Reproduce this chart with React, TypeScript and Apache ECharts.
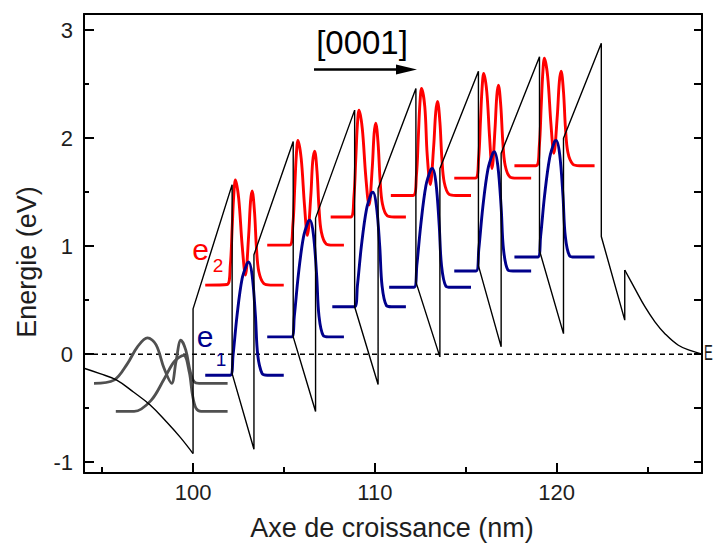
import React, { useEffect, useRef } from "react";
import * as echarts from "echarts";

const X_MIN = 94;
const X_MAX = 128;
const Y_MIN = -1.1;
const Y_MAX = 3.15;

const xMajorTicks = [100, 110, 120];
const xMinorTicks = [95, 105, 115, 125];
const yMajorTicks = [-1, 0, 1, 2, 3];
const yMinorTicks = [-0.5, 0.5, 1.5, 2.5];
const yRightTicks = [-1, -0.5, 0, 0.5, 1, 1.5, 2, 2.5, 3];

// conduction band profile (black)
const bandLeft = [
  [94.0, -0.13], [94.88, -0.18], [95.8, -0.24], [96.72, -0.35], [97.64, -0.47],
  [98.56, -0.63], [99.3, -0.77], [100.0, -0.92],
];
const bandSaw = [
  [100.0, -0.92], [100.0, 0.42], [102.15, 1.57], [102.15, -0.18], [103.35, -0.88],
  [103.35, 0.92], [105.51, 1.97], [105.51, 0.16], [106.74, -0.53], [106.74, 1.26],
  [108.89, 2.26], [108.89, 0.44], [110.18, -0.28], [110.18, 1.535], [112.26, 2.46],
  [112.26, 0.67], [113.58, -0.025], [113.58, 1.72], [115.7, 2.62], [115.7, 0.82],
  [116.95, 0.068], [116.95, 1.86], [119.06, 2.755], [119.06, 0.96], [120.38, 0.19],
  [120.38, 2.0], [122.46, 2.88], [122.46, 1.09], [123.75, 0.315], [123.75, 0.78],
];
const bandRight = [
  [123.75, 0.78], [124.3, 0.61], [124.86, 0.44], [125.41, 0.3], [125.96, 0.19],
  [126.7, 0.083], [127.43, 0.03], [128.0, 0.0],
];
const fermiLevel = [[94, 0], [128, 0]];

// gray states on the left
const grayUpper = [
  [94.55, -0.27], [95.65, -0.24], [96.39, -0.087], [96.94, 0.068], [97.49, 0.151],
  [97.96, 0.089], [98.41, -0.133], [98.82, -0.27], [99.06, -0.07], [99.33, 0.13],
  [99.6, 0.037], [99.85, -0.164], [100.07, -0.257], [100.34, -0.27], [101.9, -0.27],
];
const grayLower = [
  [95.75, -0.53], [96.76, -0.53], [97.68, -0.43], [98.41, -0.23], [98.96, -0.07],
  [99.48, -0.01], [99.79, -0.165], [99.97, -0.38], [100.16, -0.5], [100.44, -0.53],
  [101.9, -0.53],
];

// e1 (blue) wavefunctions
const e1Well1 = [
  [100.67, -0.195], [102.05, -0.195], [102.2, -0.01], [102.42, 0.36], [102.7, 0.7],
  [102.97, 0.84], [103.06, 0.855], [103.25, 0.73], [103.43, 0.36], [103.56, -0.01],
  [103.8, -0.18], [104.08, -0.195], [104.99, -0.195],
];
const e1Well2 = [
  [104.08, 0.16], [105.42, 0.16], [105.57, 0.35], [105.79, 0.73], [106.07, 1.08],
  [106.34, 1.23], [106.43, 1.24], [106.62, 1.11], [106.8, 0.73], [106.93, 0.35],
  [107.17, 0.17], [107.45, 0.16], [108.3, 0.16],
];
const e1Well3 = [
  [107.66, 0.44], [108.89, 0.44], [109.04, 0.63], [109.26, 1.0], [109.54, 1.34],
  [109.81, 1.49], [109.9, 1.5], [110.09, 1.37], [110.27, 1.0], [110.4, 0.63],
  [110.64, 0.45], [110.92, 0.44], [111.71, 0.44],
];
const e1Well4 = [
  [110.79, 0.62], [112.16, 0.62], [112.31, 0.82], [112.53, 1.2], [112.81, 1.56],
  [113.08, 1.71], [113.17, 1.72], [113.36, 1.59], [113.54, 1.2], [113.67, 0.82],
  [113.91, 0.63], [114.19, 0.62], [115.29, 0.62],
];
const e1Well5 = [
  [114.37, 0.77], [115.57, 0.77], [115.72, 0.97], [115.94, 1.36], [116.22, 1.71],
  [116.49, 1.86], [116.58, 1.875], [116.77, 1.74], [116.95, 1.36], [117.08, 0.97],
  [117.32, 0.78], [117.6, 0.77], [118.6, 0.77],
];
const e1Well6 = [
  [117.68, 0.9], [118.97, 0.9], [119.12, 1.09], [119.34, 1.47], [119.62, 1.82],
  [119.89, 1.97], [119.98, 1.98], [120.17, 1.85], [120.35, 1.47], [120.48, 1.09],
  [120.72, 0.91], [121.0, 0.9], [122.09, 0.9],
];

// e2 (red) wavefunctions
const e2Well1 = [
  [100.67, 0.64], [101.87, 0.645], [102.05, 0.825], [102.15, 1.164], [102.24, 1.474],
  [102.33, 1.613], [102.51, 1.442], [102.7, 1.01], [102.88, 0.732], [103.06, 1.103],
  [103.16, 1.411], [103.25, 1.511], [103.38, 1.319], [103.49, 0.979], [103.62, 0.763],
  [103.89, 0.654], [104.26, 0.64], [104.99, 0.64],
];
const e2Well2 = [
  [104.08, 1.01], [105.31, 1.01], [105.49, 1.195], [105.59, 1.53], [105.68, 1.84],
  [105.77, 1.98], [105.95, 1.81], [106.13, 1.38], [106.29, 1.1], [106.48, 1.47],
  [106.58, 1.78], [106.69, 1.88], [106.82, 1.69], [106.93, 1.35], [107.06, 1.13],
  [107.33, 1.02], [107.7, 1.01], [108.3, 1.01],
];
const e2Well3 = [
  [107.57, 1.27], [108.67, 1.27], [108.85, 1.46], [108.95, 1.8], [109.04, 2.12],
  [109.13, 2.26], [109.31, 2.09], [109.5, 1.65], [109.68, 1.38], [109.86, 1.73],
  [109.96, 2.04], [110.05, 2.14], [110.18, 1.95], [110.29, 1.61], [110.42, 1.39],
  [110.69, 1.28], [111.06, 1.27], [111.71, 1.27],
];
const e2Well4 = [
  [110.88, 1.47], [112.11, 1.47], [112.29, 1.66], [112.39, 2.0], [112.48, 2.32],
  [112.57, 2.46], [112.75, 2.29], [112.88, 1.85], [113.05, 1.57], [113.24, 1.93],
  [113.35, 2.24], [113.45, 2.34], [113.58, 2.15], [113.69, 1.81], [113.82, 1.59],
  [114.09, 1.48], [114.46, 1.47], [115.29, 1.47],
];
const e2Well5 = [
  [114.37, 1.63], [115.53, 1.63], [115.71, 1.81], [115.81, 2.15], [115.9, 2.46],
  [115.99, 2.6], [116.16, 2.43], [116.31, 2.02], [116.45, 1.72], [116.61, 2.08],
  [116.71, 2.39], [116.8, 2.49], [116.93, 2.3], [117.04, 1.97], [117.17, 1.75],
  [117.44, 1.64], [117.81, 1.63], [118.6, 1.63],
];
const e2Well6 = [
  [117.68, 1.745], [118.87, 1.745], [119.05, 1.93], [119.15, 2.28], [119.24, 2.6],
  [119.33, 2.74], [119.51, 2.57], [119.69, 2.13], [119.85, 1.86], [120.04, 2.21],
  [120.15, 2.52], [120.25, 2.62], [120.38, 2.43], [120.49, 2.09], [120.62, 1.87],
  [120.89, 1.76], [121.26, 1.745], [122.09, 1.745],
];

const e1Wells = [e1Well1, e1Well2, e1Well3, e1Well4, e1Well5, e1Well6];
const e2Wells = [e2Well1, e2Well2, e2Well3, e2Well4, e2Well5, e2Well6];

const FONT = "Liberation Sans, Arial, sans-serif";
const RED = "#ff0000";
const BLUE = "#00008b";
const GRAY = "#505050";
const INK = "#1e1e1e";

function lineSeries(name: string, data: number[][], color: string, width: number, smooth: number | boolean, extra: any = {}) {
  return {
    name,
    type: "line",
    data,
    showSymbol: false,
    symbol: "none",
    smooth,
    silent: true,
    lineStyle: { color, width, ...(extra.lineStyle || {}) },
    z: extra.z ?? 2,
    xAxisIndex: 0,
    yAxisIndex: 0,
  };
}

export default function App() {
  const ref = useRef<HTMLDivElement>(null);
  useEffect(() => {
    if (!ref.current) return;
    const chart = echarts.init(ref.current, null, { renderer: "svg" });
    const series: any[] = [];
    series.push(lineSeries("fermi", fermiLevel, "#000", 1.5, false, { lineStyle: { type: [5, 4] }, z: 1 }));
    series.push(lineSeries("gray1", grayUpper, GRAY, 2.8, 0.35));
    series.push(lineSeries("gray2", grayLower, GRAY, 2.8, 0.35));
    e2Wells.forEach((d, i) => series.push(lineSeries("e2_" + i, d, RED, 2.9, 0.35)));
    e1Wells.forEach((d, i) => series.push(lineSeries("e1_" + i, d, BLUE, 2.9, 0.35)));
    series.push(lineSeries("bandL", bandLeft, "#000", 1.4, 0.4, { z: 3 }));
    series.push(lineSeries("bandS", bandSaw, "#000", 1.4, false, { z: 3 }));
    series.push(lineSeries("bandR", bandRight, "#000", 1.4, 0.4, { z: 3 }));

    const baseAxisText = { fontFamily: FONT, color: INK, fontSize: 22 };

    chart.setOption({
      animation: false,
      backgroundColor: "#ffffff",
      grid: { left: 84, top: 14, right: 12, bottom: 76, containLabel: false },
      xAxis: [
        {
          type: "value", min: X_MIN, max: X_MAX, position: "bottom",
          axisLine: { show: true, onZero: false, lineStyle: { color: "#000", width: 2 } },
          axisTick: { show: true, inside: true, length: 10, customValues: xMajorTicks, lineStyle: { color: "#000", width: 2 } },
          axisLabel: { show: true, customValues: xMajorTicks, margin: 8, ...baseAxisText },
          splitLine: { show: false },
        },
        {
          type: "value", min: X_MIN, max: X_MAX, position: "bottom",
          axisLine: { show: false, onZero: false },
          axisTick: { show: true, inside: true, length: 6, customValues: xMinorTicks, lineStyle: { color: "#000", width: 2 } },
          axisLabel: { show: false },
          splitLine: { show: false },
        },
        {
          type: "value", min: X_MIN, max: X_MAX, position: "top",
          axisLine: { show: true, onZero: false, lineStyle: { color: "#000", width: 2 } },
          axisTick: { show: false },
          axisLabel: { show: false },
          splitLine: { show: false },
        },
      ],
      yAxis: [
        {
          type: "value", min: Y_MIN, max: Y_MAX, position: "left",
          axisLine: { show: true, onZero: false, lineStyle: { color: "#000", width: 2 } },
          axisTick: { show: true, inside: true, length: 10, customValues: yMajorTicks, lineStyle: { color: "#000", width: 2 } },
          axisLabel: { show: true, customValues: yMajorTicks, margin: 11, ...baseAxisText },
          splitLine: { show: false },
        },
        {
          type: "value", min: Y_MIN, max: Y_MAX, position: "left",
          axisLine: { show: false, onZero: false },
          axisTick: { show: true, inside: true, length: 5, customValues: yMinorTicks, lineStyle: { color: "#000", width: 2 } },
          axisLabel: { show: false },
          splitLine: { show: false },
        },
        {
          type: "value", min: Y_MIN, max: Y_MAX, position: "right",
          axisLine: { show: true, onZero: false, lineStyle: { color: "#000", width: 2 } },
          axisTick: { show: true, inside: true, length: 8, customValues: yRightTicks, lineStyle: { color: "#000", width: 2 } },
          axisLabel: { show: false },
          splitLine: { show: false },
        },
      ],
      series,
      graphic: [
        {
          type: "text", x: 362, y: 42, z: 10,
          style: { text: "[0001]", fontFamily: FONT, fontSize: 33, fill: "#000", align: "center", verticalAlign: "middle" },
        },
        {
          type: "line", z: 10,
          shape: { x1: 314, y1: 69.5, x2: 400, y2: 69.5 },
          style: { stroke: "#000", lineWidth: 2.5 },
        },
        {
          type: "polygon", z: 10,
          shape: { points: [[396, 64.5], [417, 69.5], [396, 74.5]] },
          style: { fill: "#000" },
        },
        {
          type: "text", x: 200.5, y: 249, z: 10,
          style: { text: "e", fontFamily: FONT, fontSize: 30, fill: RED, align: "center", verticalAlign: "middle" },
        },
        {
          type: "text", x: 218, y: 265.5, z: 10,
          style: { text: "2", fontFamily: FONT, fontSize: 19, fill: RED, align: "center", verticalAlign: "middle" },
        },
        {
          type: "text", x: 205, y: 336.5, z: 10,
          style: { text: "e", fontFamily: FONT, fontSize: 30, fill: BLUE, align: "center", verticalAlign: "middle" },
        },
        {
          type: "text", x: 221, y: 359.5, z: 10,
          style: { text: "1", fontFamily: FONT, fontSize: 19, fill: BLUE, align: "center", verticalAlign: "middle" },
        },
        {
          type: "text", x: 704, y: 353, z: 10, scaleX: 0.6,
          style: { text: "E", fontFamily: FONT, fontSize: 22, fill: INK, align: "left", verticalAlign: "middle" },
        },
        {
          type: "text", x: 392, y: 528, z: 10,
          style: { text: "Axe de croissance (nm)", fontFamily: FONT, fontSize: 27, fill: INK, align: "center", verticalAlign: "middle" },
        },
        {
          type: "text", x: 27, y: 262, z: 10, rotation: Math.PI / 2,
          style: { text: "Energie (eV)", fontFamily: FONT, fontSize: 27, fill: INK, align: "center", verticalAlign: "middle" },
        },
      ],
    });
    return () => chart.dispose();
  }, []);
  return (
    <div
      ref={ref}
      style={{ position: "fixed", left: 0, top: 0, width: 714, height: 549, background: "#fff" }}
    />
  );
}
